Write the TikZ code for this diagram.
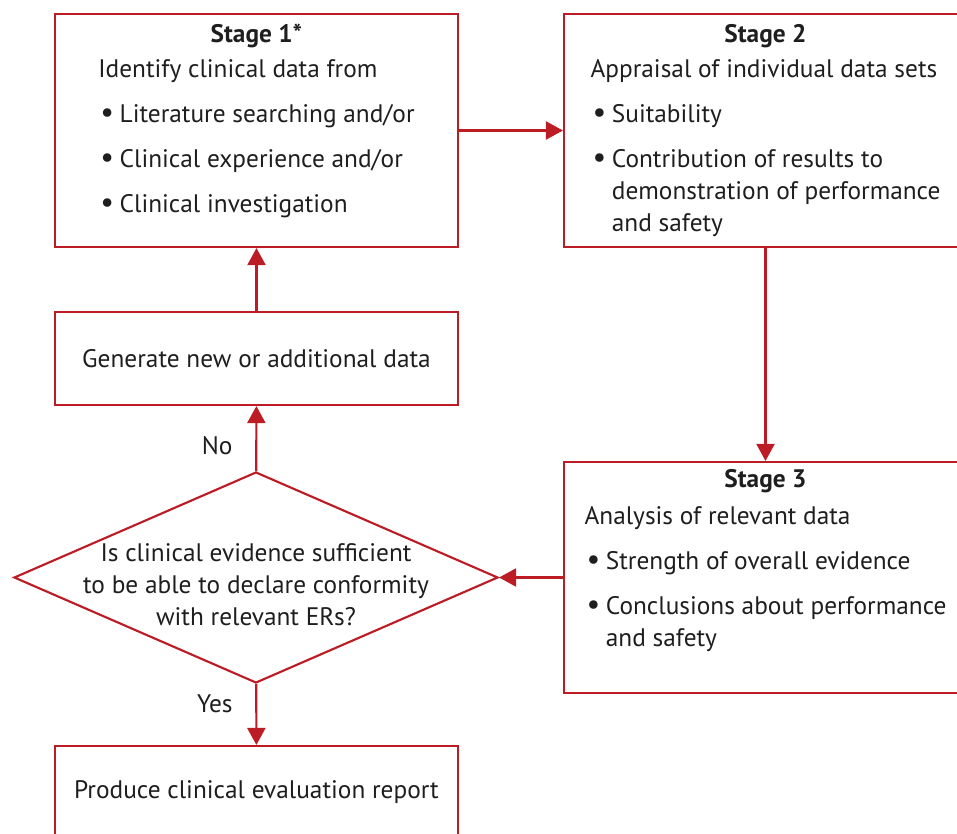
\documentclass[tikz,border=0pt]{standalone}
\usepackage{fontspec}
\setmainfont{PT Sans}
\usetikzlibrary{shapes.geometric,arrows.meta,positioning}
\definecolor{evalred}{RGB}{188,28,36}
\definecolor{evaltext}{RGB}{30,30,30}
\newcommand{\bul}{\makebox[16pt][l]{\hspace{1.5pt}\scalebox{1.2}{\textbullet}}}
\newcommand{\ind}{\hspace*{16pt}}

\begin{document}
\begin{tikzpicture}[x=0.75pt,y=-0.75pt,
    stagebox/.style={draw=evalred,line width=1.6pt,minimum width=302.25pt,minimum height=174.75pt,inner sep=0pt},
    actionbox/.style={draw=evalred,line width=1.6pt,minimum width=302.25pt,minimum height=69.75pt,inner sep=0pt,
      text=evaltext,font={\fontsize{19}{24}\selectfont}},
    decision/.style={draw=evalred,line width=1.6pt,diamond,minimum width=363pt,minimum height=158.25pt,inner sep=0pt},
    question/.style={align=center,text=evaltext,font={\fontsize{19}{24}\selectfont},inner sep=0pt},
    stagetitle/.style={text=evaltext,font={\fontsize{19}{24}\selectfont\bfseries},inner sep=0pt},
    stagelist/.style={anchor=north,align=left,text=evaltext,font={\fontsize{19}{24}\selectfont},inner sep=0pt},
    flow/.style={draw=evalred,line width=1.6pt,-{Triangle[width=13.5pt,length=12.75pt]}},
    answer/.style={text=evaltext,font={\fontsize{19}{24}\selectfont},inner sep=0pt}]
    \clip (0,0) rectangle (957,834);

    % Stage 1
    \node[stagebox] (stage1) at (256.5,130.5) {};
    \node[stagetitle] (title1) at (256.5,36) {Stage 1*};
    \node[stagelist] (list1) at (256.5,59) {Identify clinical data from\\[9.75pt]
      \bul Literature searching and/or\\[9.75pt]
      \bul Clinical experience and/or\\[9.75pt]
      \bul Clinical investigation};

    % Stage 2
    \node[stagebox] (stage2) at (765.5,130.5) {};
    \node[stagetitle] (title2) at (765.5,36) {Stage 2};
    \node[stagelist] (list2) at (765.5,59) {Appraisal of individual data sets\\[9.75pt]
      \bul Suitability\\[9.75pt]
      \bul Contribution of results to\\
      \ind demonstration of performance\\
      \ind and safety};

    % Stage 3
    \node[stagebox,minimum height=173.25pt] (stage3) at (765.5,577.5) {};
    \node[stagetitle] (title3) at (765.5,481) {Stage 3};
    \node[stagelist] (list3) at (765.5,506) {Analysis of relevant data\\[9.75pt]
      \bul Strength of overall evidence\\[9.75pt]
      \bul Conclusions about performance\\
      \ind and safety};

    % Decision and actions
    \node[actionbox] (generate) at (256.5,358.5) {Generate new or additional data};
    \node[decision] (sufficient) at (256,577.5) {};
    \node[question] (ask) at (256,585) {Is clinical evidence sufficient\\
      to be able to declare conformity\\with relevant ERs?};
    \node[actionbox] (report) at (256.5,792.5) {Produce clinical evaluation report};

    % Flow
    \draw[flow] (stage1) -- (stage2);
    \draw[flow] (stage2) -- (stage3);
    \draw[flow] (stage3) -- (sufficient);
    \draw[flow] (sufficient) -- node[answer,pos=0.39,left=17pt] (no) {No} (generate);
    \draw[flow] (generate) -- (stage1);
    \draw[flow] (sufficient) -- node[answer,pos=0.32,left=17pt] (yes) {Yes} (report);
\end{tikzpicture}
\end{document}
